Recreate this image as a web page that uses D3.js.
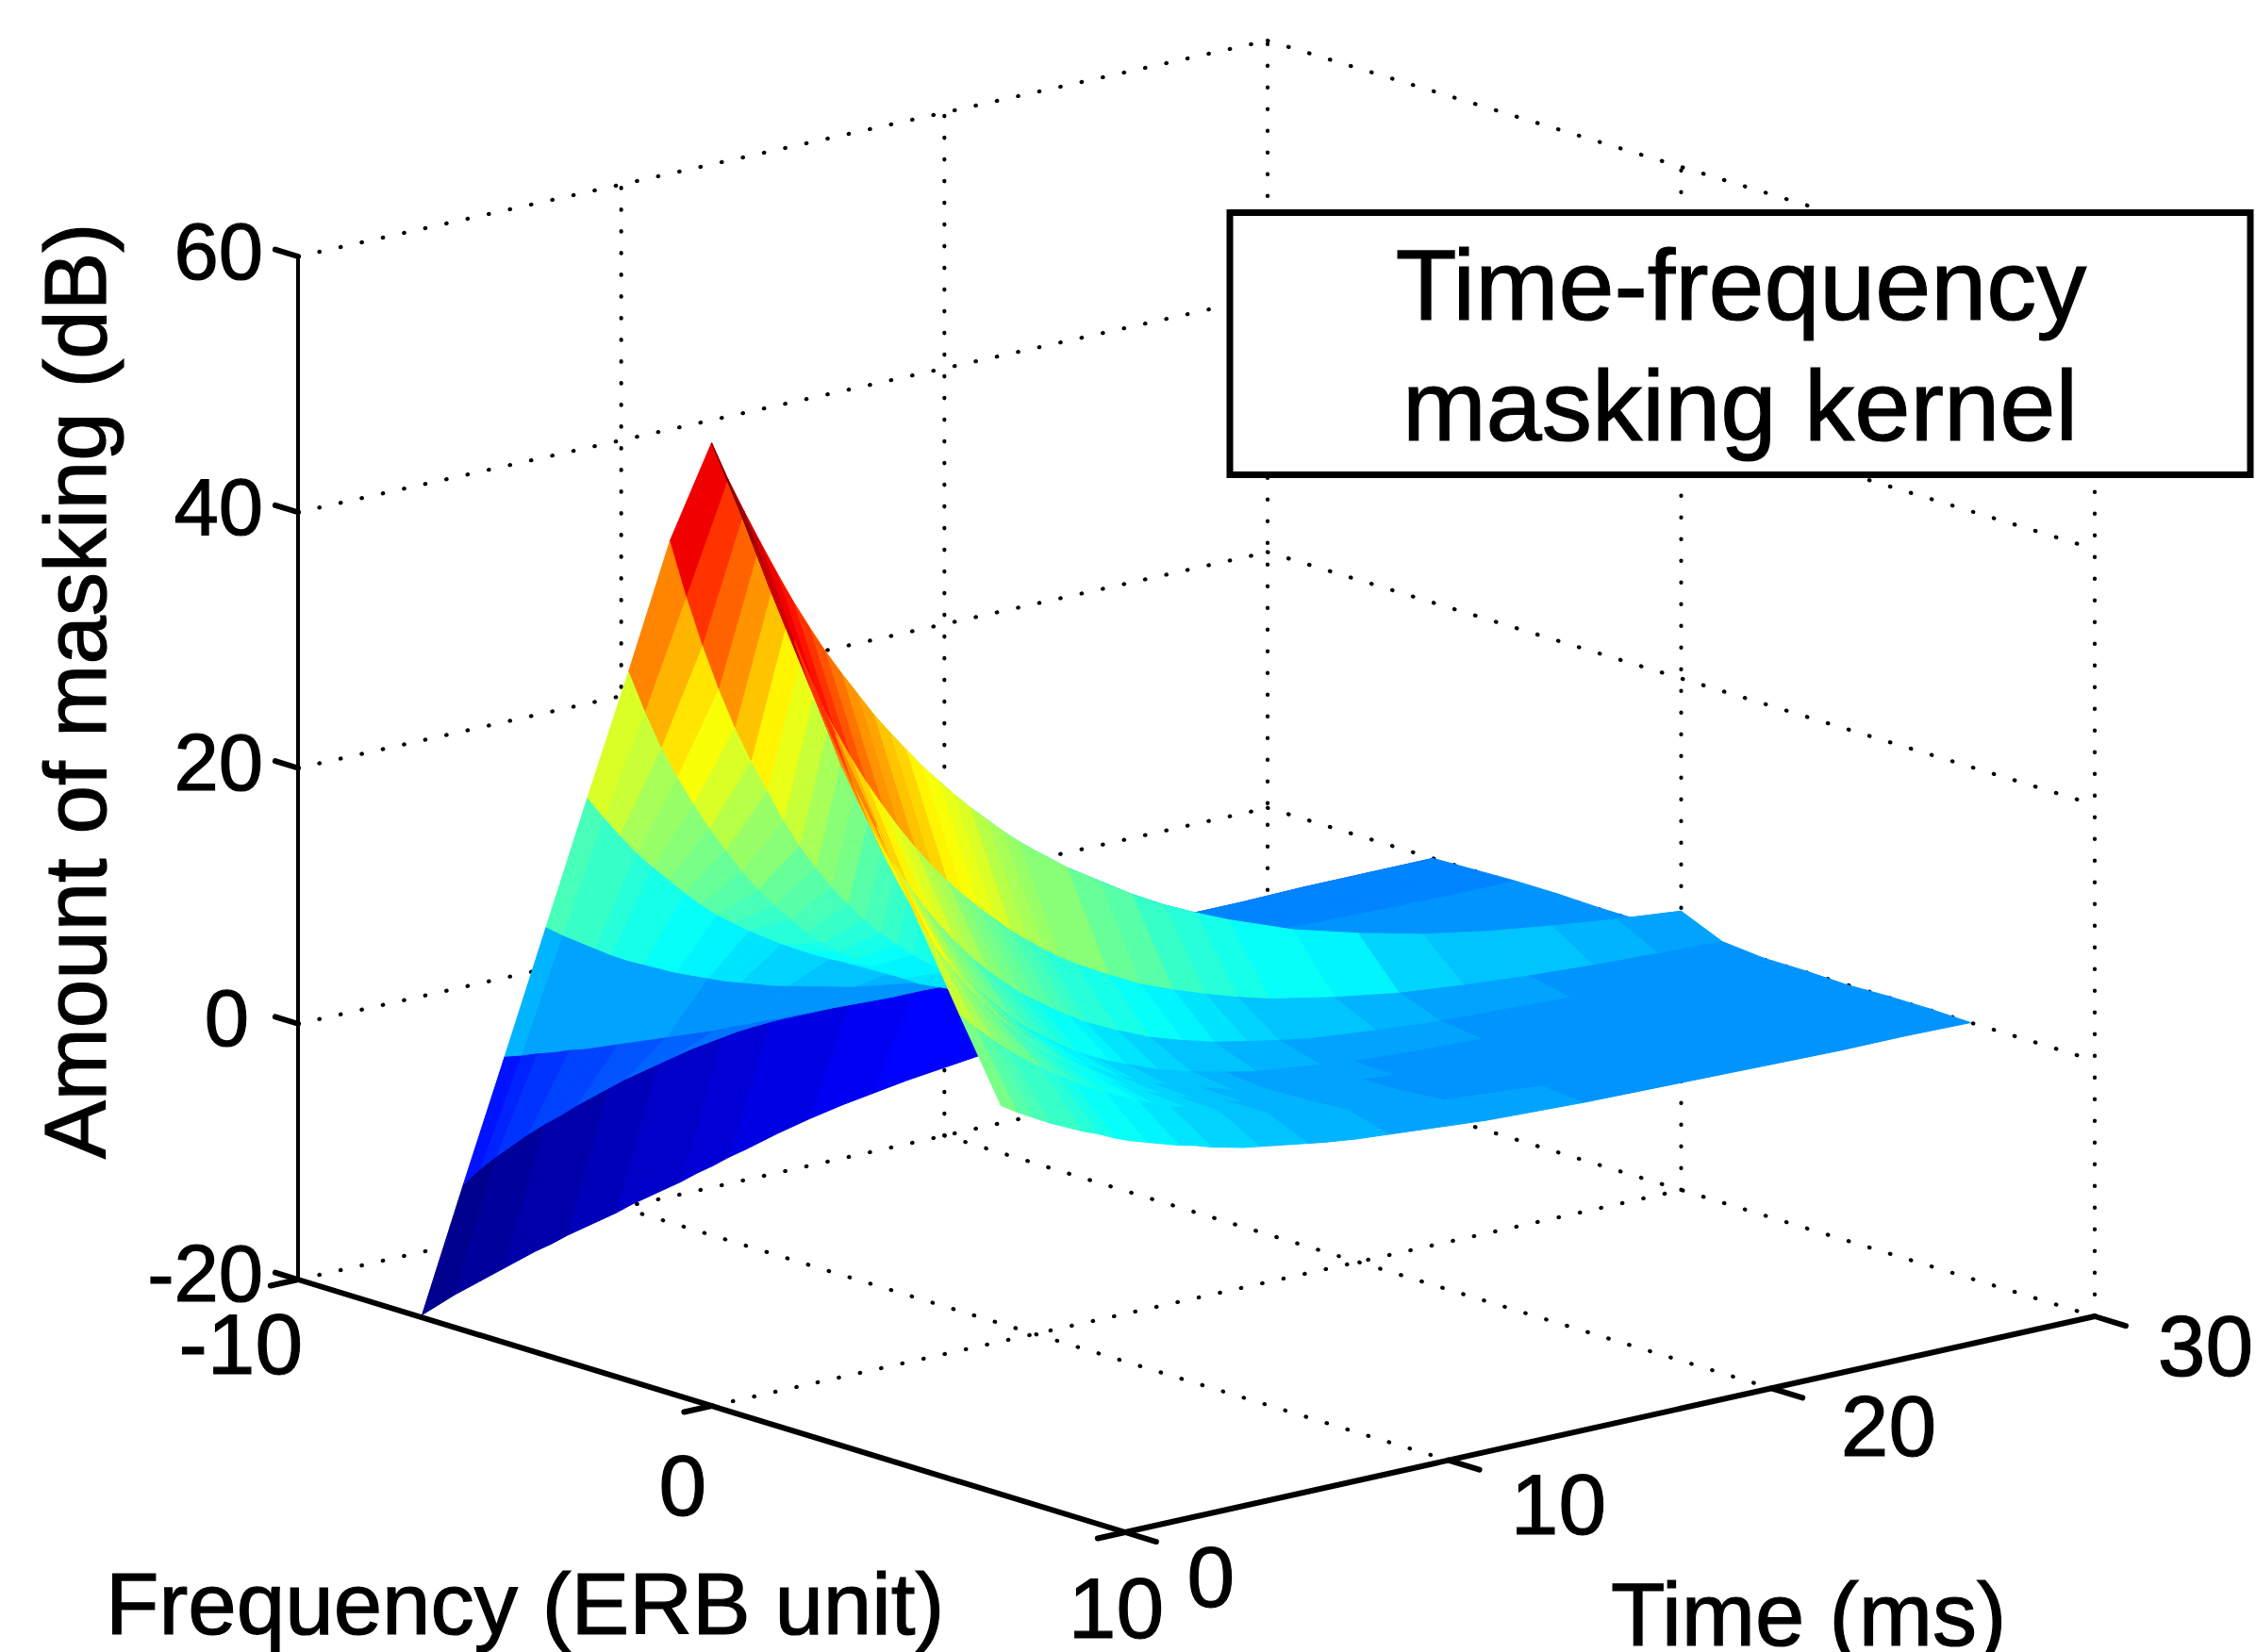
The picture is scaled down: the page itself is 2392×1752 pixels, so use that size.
<!DOCTYPE html>
<html>
<head>
<meta charset="utf-8">
<script src="https://cdn.jsdelivr.net/npm/d3@7"></script>
<style>
body { margin: 0; background: #fff; }
text { font-family: "Liberation Sans", Arial, sans-serif; fill: #000; stroke: #000; stroke-width: 1.2px; }
</style>
</head>
<body>
<div id="chart"></div>
<script>
"use strict";

var width = 2392;
var height = 1752;

// tick labels
var freqTicks = [-10, 0, 10];
var timeTicks = [0, 10, 20, 30];
var levelTicks = [-20, 0, 20, 40, 60];

// surface grid
var freqGrid = [-7, -6, -5, -4, -3, -2, -1, 0, 1, 2, 3, 4, 5, 6, 7];
var timeGrid = [0, 0.5, 1, 1.5, 2, 2.5, 3, 3.5, 4, 4.5, 5, 5.5, 6, 6.5, 7, 7.5, 8, 8.5, 9, 9.5, 10, 11, 12, 13, 14, 15, 16, 18, 20, 22, 24, 26, 28, 30];

var maskM7 = [-19.8, -19.3, -18.8, -18.4, -18, -17.6, -17.2, -16.8, -16.5, -16.1, -15.8, -15.5, -15.2, -14.8, -14.5, -14.2, -13.9, -13.5, -13.2, -12.8, -12.5, -11.8, -11.2, -10.7, -10.3, -9.9, -9.6, -9, -8.5, -8, -7.6, -7.2, -6.9, -6.6];
var maskM6 = [-8.6, -7.7, -7, -6.4, -5.8, -5.3, -4.9, -4.4, -4, -3.6, -3.2, -2.9, -2.6, -2.3, -2, -1.8, -1.6, -1.4, -1.3, -1.2, -1.1, -0.9, -0.8, -0.7, -0.6, -0.5, -0.4, -0.3, -0.2, -0.1, -0.1, 0, 0, 0];
var maskM5 = [2.4, 2.2, 2.1, 1.9, 1.8, 1.6, 1.5, 1.4, 1.3, 1.2, 1.1, 1, 0.9, 0.8, 0.8, 0.7, 0.7, 0.6, 0.6, 0.5, 0.5, 0.4, 0.3, 0.3, 0.2, 0.2, 0.2, 0.1, 0.1, 0, 0, 0, 0, 0.1];
var maskM4 = [13.5, 12.6, 11.8, 11, 10.2, 9.5, 8.9, 8.3, 7.7, 7.2, 6.7, 6.2, 5.8, 5.4, 5, 4.7, 4.4, 4.1, 3.8, 3.5, 3.3, 2.9, 2.5, 2.1, 1.8, 1.6, 1.4, 1, 0.8, 0.6, 0.4, 0.3, 0.2, 0.2];
var maskM3 = [24.6, 22.8, 21.1, 19.5, 18.1, 16.8, 15.5, 14.3, 13.2, 12.3, 11.4, 10.6, 9.8, 9.1, 8.4, 7.8, 7.2, 6.6, 6.1, 5.7, 5.3, 4.5, 3.9, 3.4, 2.9, 2.5, 2.1, 1.5, 1.1, 0.8, 0.6, 0.5, 0.3, 0.2];
var maskM2 = [35.5, 32.1, 29, 26.4, 24, 21.8, 19.8, 17.9, 16.2, 14.7, 13.3, 12, 10.9, 9.9, 9, 8.2, 7.4, 6.7, 6, 5.5, 5, 4.1, 3.4, 2.8, 2.3, 1.9, 1.5, 1, 0.7, 0.5, 0.3, 0.2, 0.1, 0.1];
var maskM1 = [46.7, 42.1, 38, 34.3, 31, 28.1, 25.5, 22.9, 20.6, 18.6, 16.8, 15.2, 13.7, 12.4, 11.2, 10.1, 9.1, 8.2, 7.4, 6.7, 6, 4.9, 4, 3.3, 2.7, 2.2, 1.8, 1.2, 0.8, 0.6, 0.4, 0.3, 0.2, 0.1];
var maskP0 = [55.3, 52.2, 49.4, 46.7, 44.1, 41.6, 39.3, 37.1, 35.1, 33.2, 31.3, 29.6, 28, 26.4, 25, 23.6, 22.3, 21.1, 19.9, 18.8, 17.8, 15.9, 14.3, 12.7, 11.3, 10.1, 9, 7.1, 5.7, 4.5, 3.6, 2.9, 2.3, 1.8];
var maskP1 = [48.5, 44.8, 41.4, 38.2, 35.3, 32.6, 30.1, 27.8, 25.7, 23.7, 21.9, 20.2, 18.7, 17.3, 16, 14.8, 13.6, 12.6, 11.6, 10.7, 9.9, 8.5, 7.2, 6.2, 5.3, 4.5, 3.8, 2.8, 2, 1.5, 1.1, 0.8, 0.6, 0.4];
var maskP2 = [41.8, 37.9, 34.5, 31, 28, 25.4, 23, 20.8, 18.8, 17, 15.4, 13.9, 12.6, 11.4, 10.3, 9.4, 8.5, 7.7, 6.9, 6.3, 5.7, 4.6, 3.8, 3.1, 2.6, 2.1, 1.7, 1.2, 0.8, 0.6, 0.4, 0.3, 0.2, 0.1];
var maskP3 = [35.4, 31.6, 28.2, 25.2, 22.5, 20, 17.9, 16, 14.3, 12.8, 11.4, 10.1, 9, 8.1, 7.2, 6.4, 5.7, 5.1, 4.6, 4.1, 3.6, 2.9, 2.3, 1.8, 1.5, 1.2, 0.9, 0.6, 0.4, 0.2, 0.2, 0.1, 0.1, 0.1];
var maskP4 = [29.2, 26.1, 23.4, 20.9, 18.7, 16.7, 15, 13.4, 12, 10.7, 9.6, 8.6, 7.7, 6.9, 6.2, 5.5, 4.9, 4.4, 4, 3.6, 3.2, 2.5, 2, 1.6, 1.3, 1, 0.8, 0.5, 0.3, 0.2, 0.1, 0.1, 0.1, 0];
var maskP5 = [22.8, 20.6, 18.7, 16.9, 15.3, 13.8, 12.5, 11.3, 10.2, 9.3, 8.4, 7.6, 6.9, 6.2, 5.6, 5.1, 4.6, 4.2, 3.8, 3.4, 3.1, 2.5, 2.1, 1.7, 1.4, 1.1, 0.9, 0.6, 0.4, 0.3, 0.2, 0.1, 0.1, 0.1];
var maskP6 = [16.5, 15.2, 14, 12.9, 11.9, 11, 10.1, 9.3, 8.6, 7.9, 7.3, 6.7, 6.2, 5.7, 5.3, 4.9, 4.5, 4.1, 3.8, 3.5, 3.2, 2.7, 2.3, 1.9, 1.6, 1.4, 1.2, 0.8, 0.6, 0.4, 0.3, 0.2, 0.2, 0.1];
var maskP7 = [10.4, 9.6, 8.9, 8.2, 7.6, 7, 6.5, 5.9, 5.4, 5, 4.6, 4.2, 3.9, 3.5, 3.2, 2.9, 2.7, 2.5, 2.3, 2.1, 1.9, 1.6, 1.4, 1.2, 1, 0.8, 0.7, 0.5, 0.4, 0.3, 0.2, 0.1, 0.1, 0];

var maskRows = [maskM7, maskM6, maskM5, maskM4, maskM3, maskM2, maskM1, maskP0, maskP1, maskP2, maskP3, maskP4, maskP5, maskP6, maskP7];

var svg = d3.select("#chart").append("svg")
	.attr("width", width)
	.attr("height", height)
	.style("display", "block");

// oblique projection: each data axis adds its own screen offset
var originX = d3.scaleLinear().domain([-10, 10]).range([316, 1193]);
var timeX = d3.scaleLinear().domain([0, 30]).range([0, 1028]);
var freqY = d3.scaleLinear().domain([-10, 10]).range([0, 268]);
var timeY = d3.scaleLinear().domain([0, 30]).range([0, -229]);
var levelY = d3.scaleLinear().domain([-20, 60]).range([1357, 272]);

function project(f, t, z) {
	return [originX(f) + timeX(t), levelY(z) + freqY(f) + timeY(t)];
}

// MATLAB jet, 64 steps
var jet = d3.scaleLinear()
	.domain([0, 0.125, 0.375, 0.625, 0.875, 1])
	.range(["#00008f", "#0000ff", "#00ffff", "#ffff00", "#ff0000", "#800000"]);
var colorNorm = d3.scaleLinear().domain([-20, 55.3]).range([0, 1]).clamp(true);
function surfaceColor(z) {
	return jet(Math.min(63, Math.floor(colorNorm(z) * 64)) / 63);
}

var path3d = d3.line();

// dotted grid on the two back walls and the floor
var gridLines = [];
levelTicks.forEach(function(z) {
	gridLines.push([project(-10, 0, z), project(-10, 30, z)]);
	gridLines.push([project(-10, 30, z), project(10, 30, z)]);
});
[10, 20, 30].forEach(function(t) {
	gridLines.push([project(-10, t, -20), project(-10, t, 60)]);
});
[0, 10].forEach(function(f) {
	gridLines.push([project(f, 30, -20), project(f, 30, 60)]);
});
[10, 20].forEach(function(t) {
	gridLines.push([project(-10, t, -20), project(10, t, -20)]);
});
gridLines.push([project(0, 0, -20), project(0, 30, -20)]);

svg.append("g").selectAll("path")
	.data(gridLines)
	.enter()
	.append("path")
	.attr("d", path3d)
	.attr("fill", "none")
	.attr("stroke", "#000")
	.attr("stroke-width", 4.2)
	.attr("stroke-linecap", "round")
	.attr("stroke-dasharray", "0.5 22.5");

// surface cells, back to front so nearer cells cover the far ones
var cells = [];
for (var i = 0; i < freqGrid.length - 1; i++) {
	for (var j = timeGrid.length - 2; j >= 0; j--) {
		cells.push({
			z: maskRows[i][j],
			pts: [
				project(freqGrid[i], timeGrid[j], maskRows[i][j]),
				project(freqGrid[i + 1], timeGrid[j], maskRows[i + 1][j]),
				project(freqGrid[i + 1], timeGrid[j + 1], maskRows[i + 1][j + 1]),
				project(freqGrid[i], timeGrid[j + 1], maskRows[i][j + 1])
			]
		});
	}
}

svg.append("g").selectAll("path")
	.data(cells)
	.enter()
	.append("path")
	.attr("d", function(d) { return path3d(d.pts) + "Z"; })
	.attr("fill", function(d) { return surfaceColor(d.z); })
	.attr("stroke", function(d) { return surfaceColor(d.z); })
	.attr("stroke-width", 1)
	.attr("stroke-linejoin", "round");

// axis lines and ticks
var axisLines = [
	[project(-10, 0, -20), project(-10, 0, 60)],
	[project(-10, 0, -20), project(10, 0, -20)],
	[project(10, 0, -20), project(10, 30, -20)]
];
levelTicks.forEach(function(z) {
	axisLines.push([project(-10, 0, z), project(-10.55, 0, z)]);
});
freqTicks.forEach(function(f) {
	axisLines.push([project(f, 0, -20), project(f, -0.85, -20)]);
});
timeTicks.forEach(function(t) {
	axisLines.push([project(10, t, -20), project(10.75, t, -20)]);
});

svg.append("g").selectAll("path")
	.data(axisLines)
	.enter()
	.append("path")
	.attr("d", path3d)
	.attr("fill", "none")
	.attr("stroke", "#000")
	.attr("stroke-width", function(d, i) { return i == 0 ? 4 : 6; })
	.attr("stroke-linecap", "round");

// tick labels
var levelLabelY = d3.scaleLinear().domain([-20, 60]).range([1380, 296]);
svg.append("g").selectAll("text")
	.data(levelTicks)
	.enter()
	.append("text")
	.attr("x", function(d) { return d == 0 ? 264 : 279; })
	.attr("y", function(d) { return levelLabelY(d); })
	.attr("text-anchor", "end")
	.attr("font-size", 85)
	.text(function(d) { return d; });

var freqLabels = [
	{ label: -10, x: 321, y: 1457 },
	{ label: 0, x: 749, y: 1607 },
	{ label: 10, x: 1234, y: 1737 }
];
var timeLabels = [
	{ label: 0, x: 1309, y: 1704 },
	{ label: 10, x: 1703, y: 1627 },
	{ label: 20, x: 2053, y: 1544 },
	{ label: 30, x: 2389, y: 1459 }
];
svg.append("g").selectAll("text")
	.data(freqLabels.concat(timeLabels))
	.enter()
	.append("text")
	.attr("x", function(d) { return d.x; })
	.attr("y", function(d) { return d.y; })
	.attr("text-anchor", "end")
	.attr("font-size", 91)
	.text(function(d) { return d.label; });

// axis titles
svg.append("text")
	.attr("transform", "translate(112,1229) rotate(-90)")
	.attr("font-size", 92.5)
	.text("Amount of masking (dB)");
svg.append("text")
	.attr("x", 112)
	.attr("y", 1733)
	.attr("font-size", 92.5)
	.text("Frequency (ERB unit)");
svg.append("text")
	.attr("x", 1708)
	.attr("y", 1745)
	.attr("font-size", 94)
	.text("Time (ms)");

// annotation box
svg.append("rect")
	.attr("x", 1304)
	.attr("y", 225.5)
	.attr("width", 1082)
	.attr("height", 278)
	.attr("fill", "#fff")
	.attr("stroke", "#000")
	.attr("stroke-width", 7);
svg.append("text")
	.attr("x", 1846)
	.attr("y", 339)
	.attr("text-anchor", "middle")
	.attr("font-size", 106)
	.text("Time-frequency");
svg.append("text")
	.attr("x", 1845)
	.attr("y", 467)
	.attr("text-anchor", "middle")
	.attr("font-size", 106.5)
	.text("masking kernel");
</script>
</body>
</html>
